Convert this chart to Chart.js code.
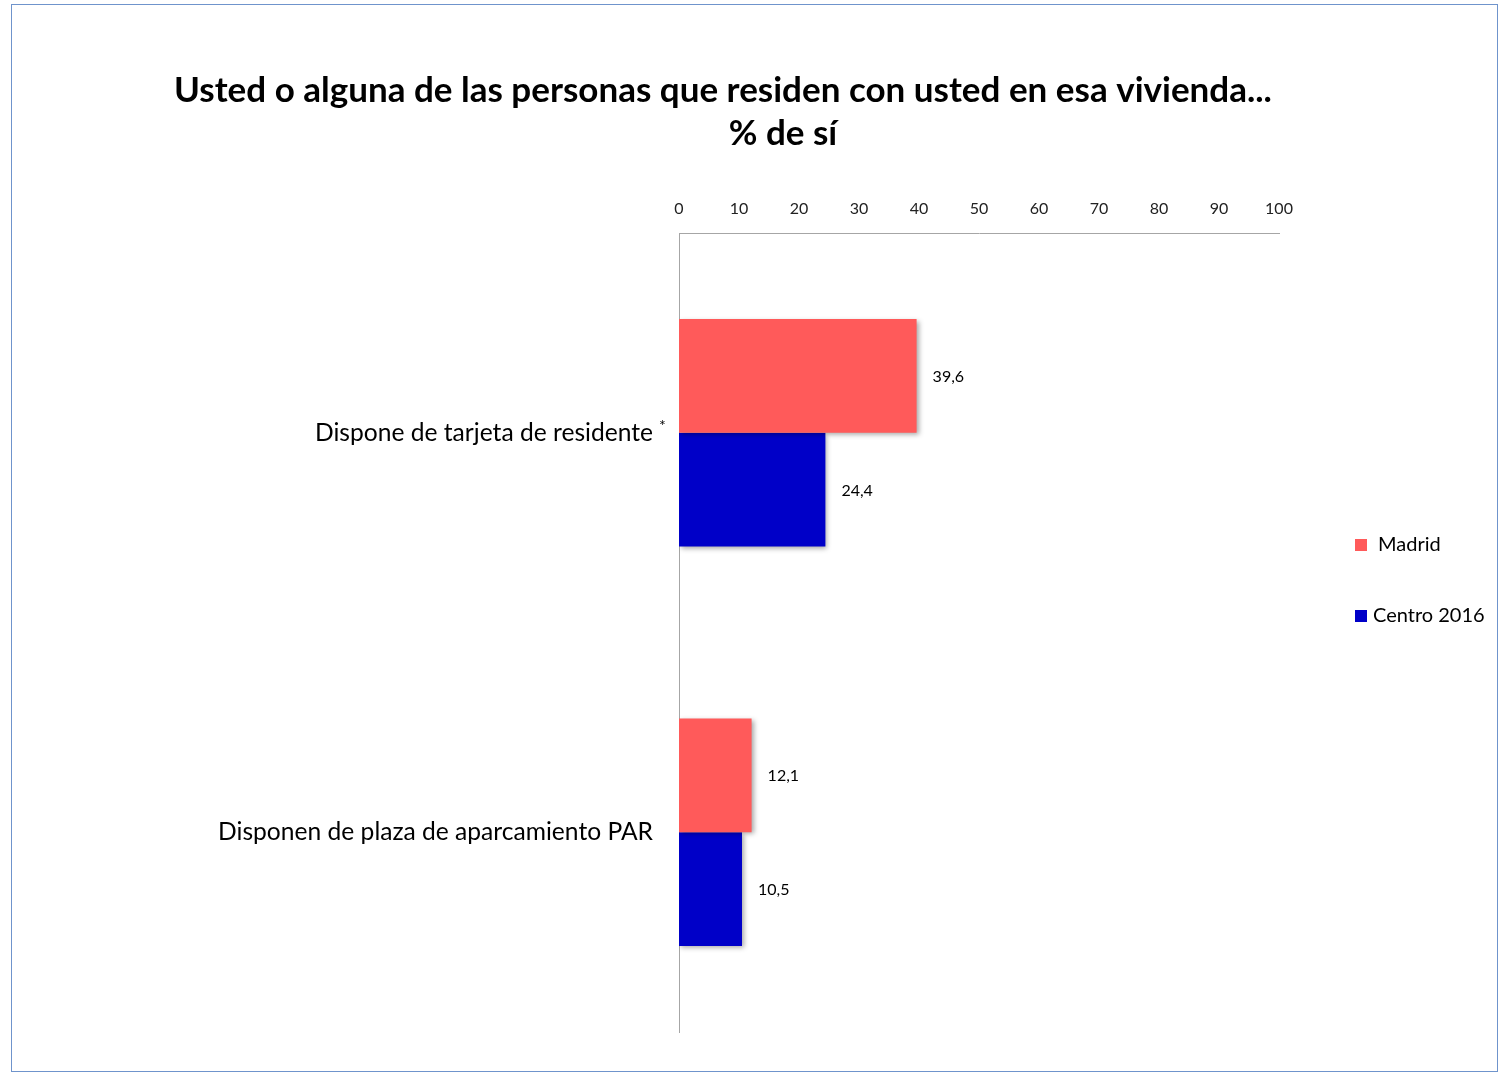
<!DOCTYPE html>
<html>
<head>
<meta charset="utf-8">
<script src="https://cdn.jsdelivr.net/npm/chart.js@4"></script>
<style>
    html, body { margin: 0; padding: 0; background: #fff; }
    #wrap { position: relative; width: 1499px; height: 1074px; }
    #frame { position: absolute; left: 11px; top: 4px; width: 1485px; height: 1066px; border: 1px solid #6f94cc; pointer-events: none; }
</style>
</head>
<body>
<div id="wrap">
    <canvas id="chart" width="1499" height="1074"></canvas>
    <div id="frame"></div>
</div>
<script>
// chart data
const categories = ['Dispone de tarjeta de residente', 'Disponen de plaza de aparcamiento PAR'];
const categoryNotes = ['*', ''];
const madridValues = [39.6, 12.1];
const centroValues = [24.4, 10.5];
const seriesNames = ['Madrid', 'Centro 2016'];
const xTicks = [0, 10, 20, 30, 40, 50, 60, 70, 80, 90, 100];
const titleLines = ['Usted o alguna de las personas que residen con usted en esa vivienda...', '% de sí'];

const FONT = 'Lato, "Open Sans", sans-serif';

// format numbers like the original (comma decimal)
function fmt(v) {
    return v.toFixed(1).replace('.', ',');
}

// title, category labels, value labels and legend
const decorPlugin = {
    id: 'decor',
    beforeDatasetsDraw(chart) {
        const ctx = chart.ctx;
        ctx.save();
        ctx.shadowColor = 'rgba(0,0,0,0.35)';
        ctx.shadowBlur = 5;
        ctx.shadowOffsetX = 2;
        ctx.shadowOffsetY = 2;
    },
    afterDatasetsDraw(chart) {
        const ctx = chart.ctx;
        ctx.restore();

        // title
        ctx.save();
        ctx.fillStyle = '#000';
        ctx.textAlign = 'center';
        ctx.textBaseline = 'alphabetic';
        ctx.font = 'bold 35px ' + FONT;
        ctx.fillText(titleLines[0], 723, 102);
        ctx.fillText(titleLines[1], 783, 145);

        // category labels
        const yScale = chart.scales.y;
        ctx.font = '24.6px ' + FONT;
        ctx.textAlign = 'right';
        ctx.textBaseline = 'middle';
        categories.forEach((c, i) => {
            const y = yScale.getPixelForValue(i);
            ctx.fillText(c, 653, y);
            if (categoryNotes[i]) {
                ctx.save();
                ctx.font = '16px ' + FONT;
                ctx.textAlign = 'left';
                ctx.fillText(categoryNotes[i], 659, y - 7);
                ctx.restore();
            }
        });

        // value labels
        ctx.font = '16px ' + FONT;
        ctx.textAlign = 'left';
        chart.data.datasets.forEach((ds, di) => {
            const meta = chart.getDatasetMeta(di);
            meta.data.forEach((bar, i) => {
                ctx.fillText(fmt(ds.data[i]), bar.x + 16, bar.y + 1);
            });
        });

        // legend
        ctx.font = '20px ' + FONT;
        const legendY = [545, 616];
        const legendTextX = [1378, 1373];
        chart.data.datasets.forEach((ds, di) => {
            ctx.fillStyle = ds.backgroundColor;
            ctx.fillRect(1355, legendY[di] - 6, 12, 12);
            ctx.fillStyle = '#000';
            ctx.fillText(ds.label, legendTextX[di], legendY[di]);
        });
        ctx.restore();
    }
};

const config = {
    type: 'bar',
    data: {
        labels: categories,
        datasets: [
            {
                label: seriesNames[0],
                data: madridValues,
                backgroundColor: '#ff5a5a',
                categoryPercentage: 0.57,
                barPercentage: 1.0
            },
            {
                label: seriesNames[1],
                data: centroValues,
                backgroundColor: '#0000c8',
                categoryPercentage: 0.57,
                barPercentage: 1.0
            }
        ]
    },
    options: {
        indexAxis: 'y',
        responsive: false,
        animation: false,
        layout: { padding: { left: 0, right: 220, top: 190, bottom: 42 } },
        plugins: {
            legend: { display: false },
            title: { display: false },
            tooltip: { enabled: false }
        },
        scales: {
            x: {
                position: 'top',
                min: 0,
                max: 100,
                afterBuildTicks: (scale) => { scale.ticks = xTicks.map(v => ({ value: v })); },
                afterFit: (scale) => { scale.height = 43; },
                grid: { display: false, drawTicks: false },
                border: { display: true, color: '#a6a6a6', width: 1 },
                ticks: { color: '#222', font: { family: FONT, size: 16 }, padding: 15 }
            },
            y: {
                afterFit: (scale) => { scale.width = 679; },
                grid: { display: false, drawTicks: false },
                border: { display: true, color: '#a6a6a6', width: 1 },
                ticks: { display: false }
            }
        }
    },
    plugins: [decorPlugin]
};

new Chart(document.getElementById('chart').getContext('2d'), config);
</script>
</body>
</html>
